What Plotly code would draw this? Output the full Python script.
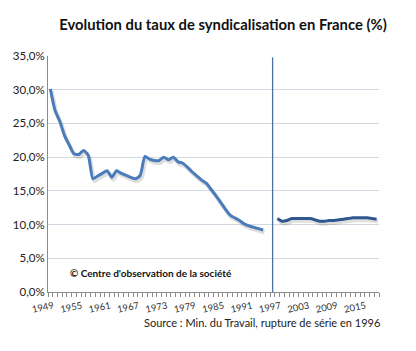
import plotly.graph_objects as go

# ---- data ----
years_1 = list(range(1949, 1995))
rate_1 = [30.1, 26.9, 25.3, 23.2, 21.8, 20.5, 20.4, 21.0, 20.3, 16.8,
          17.2, 17.6, 18.0, 17.0, 18.0, 17.6, 17.3, 17.0, 16.8, 17.3,
          20.1, 19.7, 19.5, 19.5, 20.0, 19.6, 20.0, 19.3, 19.1, 18.5,
          17.8, 17.2, 16.6, 16.1, 15.2, 14.3, 13.3, 12.3, 11.4, 11.0,
          10.6, 10.1, 9.8, 9.6, 9.4, 9.2]
years_2 = list(range(1997, 2019))
rate_2 = [10.9, 10.5, 10.6, 10.9, 10.9, 10.9, 10.9, 10.9, 10.7, 10.5,
          10.5, 10.6, 10.6, 10.7, 10.8, 10.9, 11.0, 11.0, 11.0, 11.0,
          10.9, 10.8]
break_year = 1996
break_top = 34.8
x_tick_years = list(range(1949, 2016, 6))
y_tick_vals = [0, 5, 10, 15, 20, 25, 30, 35]
y_tick_labels = ["0,0%", "5,0%", "10,0%", "15,0%", "20,0%", "25,0%", "30,0%", "35,0%"]

FONT = "Lato"
fig = go.Figure()

# shadows
for xs, ys in ((years_1, rate_1), (years_2, rate_2)):
    fig.add_trace(go.Scatter(x=[v + 0.3 for v in xs], y=[v - 0.35 for v in ys],
                             mode="lines", line=dict(color="rgba(0,0,0,0.13)", width=4,
                                                     shape="spline", smoothing=0.6),
                             hoverinfo="skip", showlegend=False))

fig.add_trace(go.Scatter(x=years_1, y=rate_1, mode="lines",
                         line=dict(color="#4A7BBA", width=3, shape="spline", smoothing=0.6),
                         showlegend=False))
fig.add_trace(go.Scatter(x=years_2, y=rate_2, mode="lines",
                         line=dict(color="#2F5790", width=3, shape="spline", smoothing=0.6),
                         showlegend=False))
fig.add_trace(go.Scatter(x=[break_year, break_year], y=[0, break_top], mode="lines",
                         line=dict(color="#4A72A8", width=1.3), showlegend=False))

fig.update_layout(
    width=416, height=351,
    margin=dict(l=48, r=37, t=56, b=59),
    paper_bgcolor="white", plot_bgcolor="white",
    font=dict(family=FONT, color="#222222"),
    title=dict(text="<b>Evolution du taux de syndicalisation en France (%)</b>",
               x=0.536, xref="container", xanchor="center",
               y=1 - 25 / 351, yref="container", yanchor="middle",
               font=dict(family=FONT, size=14.8, color="#111111")),
    xaxis=dict(range=[1948.5, 2018.5], tickvals=x_tick_years,
               ticktext=[str(v) for v in x_tick_years], ticks="", tickangle=-12,
               tickfont=dict(size=9.5, color="#333333"),
               ticklabelstandoff=4, ticklabelshift=3,
               showgrid=False, zeroline=False,
               showline=True, linecolor="#8C8C8C", linewidth=1,
               minor=dict(dtick=1, tick0=1948.5, ticks="outside", ticklen=4,
                          tickcolor="#8C8C8C", showgrid=False)),
    yaxis=dict(range=[0, 35], tickvals=y_tick_vals, ticktext=y_tick_labels,
               tickfont=dict(size=11.5, color="#222222"),
               showgrid=True, gridcolor="#D3D9E2", gridwidth=1,
               zeroline=False, showline=True, linecolor="#8C8C8C", linewidth=1,
               ticks=""),
    annotations=[
        dict(text="Source : Min. du Travail, rupture de série en 1996",
             xref="paper", yref="paper", x=1.009, y=-0.131,
             xanchor="right", yanchor="middle", showarrow=False,
             font=dict(family=FONT, size=11, color="#222222")),
        dict(text="<b>© Centre d'observation de la société</b>",
             xref="paper", yref="paper", x=0.06, y=0.08,
             xanchor="left", yanchor="middle", showarrow=False,
             font=dict(family=FONT, size=10, color="#111111")),
    ],
)

fig.write_html("out.html")
